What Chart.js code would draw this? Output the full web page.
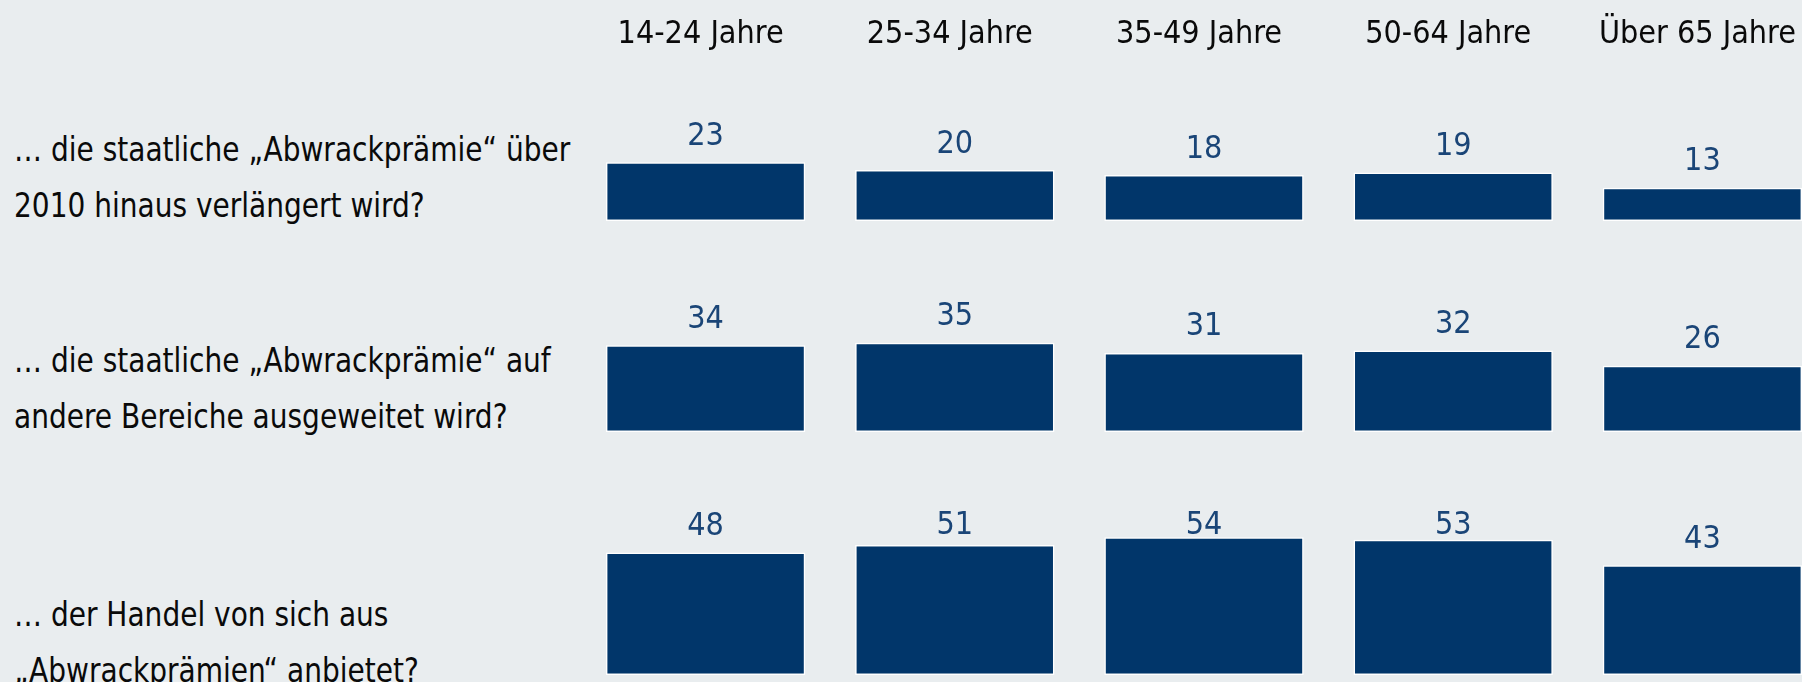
<!DOCTYPE html>
<html lang="de">
<head>
<meta charset="utf-8">
<title>Abwrackprämie nach Alter</title>
<script src="https://cdn.jsdelivr.net/npm/chart.js@4"></script>
<style>
  html, body { margin: 0; padding: 0; }
  body {
    width: 1802px; height: 682px; overflow: hidden; position: relative;
    background: #E9EDEF;
    font-family: "DejaVu Sans Condensed", "DejaVu Sans", sans-serif;
  }
  .rowlabel {
    position: absolute; left: 14px; font-size: 34px; line-height: 56.5px;
    color: #0A0A0A; white-space: nowrap;
    transform: scaleX(0.916); transform-origin: 0 0;
  }
  .chartbox { position: absolute; left: 581px; }
</style>
</head>
<body>
<div id="labels"></div>
<div class="chartbox" style="top:0px"><canvas id="c1" width="1246" height="221"></canvas></div>
<div class="chartbox" style="top:251px"><canvas id="c2" width="1246" height="181"></canvas></div>
<div class="chartbox" style="top:494px"><canvas id="c3" width="1246" height="181"></canvas></div>
<script>
// ---- data ----
const categories = ["14-24 Jahre", "25-34 Jahre", "35-49 Jahre", "50-64 Jahre", "Über 65 Jahre"];
const question1 = ["… die staatliche „Abwrackprämie“ über", "2010 hinaus verlängert wird?"];
const question2 = ["… die staatliche „Abwrackprämie“ auf", "andere Bereiche ausgeweitet wird?"];
const question3 = ["… der Handel von sich aus", "„Abwrackprämien“ anbietet?"];
const values1 = [23, 20, 18, 19, 13];
const values2 = [34, 35, 31, 32, 26];
const values3 = [48, 51, 54, 53, 43];

// ---- styles ----
const FONT = '"DejaVu Sans Condensed", "DejaVu Sans", sans-serif';
const BAR_COLOR = '#01366A';
const LABEL_COLOR = '#1A4577';
const Y_MAX = 55.3;

// row labels (HTML text)
const rowTops = [120.5, 331.5, 585.5];
[question1, question2, question3].forEach((lines, i) => {
  const d = document.createElement('div');
  d.className = 'rowlabel';
  d.style.top = rowTops[i] + 'px';
  d.innerHTML = lines.map(s => s.replace(/&/g, '&amp;').replace(/</g, '&lt;')).join('<br>');
  document.getElementById('labels').appendChild(d);
});

const valueLabels = {
  id: 'valueLabels',
  afterDatasetsDraw(chart, args, opts) {
    const ctx = chart.ctx;
    const meta = chart.getDatasetMeta(0);
    const data = chart.data.datasets[0].data;
    ctx.save();
    ctx.font = '32px ' + FONT;
    ctx.fillStyle = LABEL_COLOR;
    ctx.textAlign = 'center';
    ctx.textBaseline = 'alphabetic';
    meta.data.forEach((bar, i) => {
      const y = Math.max(bar.y - 17.5, chart.chartArea.top);
      ctx.fillText(String(data[i]), bar.x, y);
    });
    if (opts && opts.headers) {
      ctx.font = '32px ' + FONT;
      ctx.fillStyle = '#0A0A0A';
      const xs = chart.scales.x;
      chart.data.labels.forEach((lab, i) => {
        ctx.fillText(lab, xs.getPixelForValue(i) - 5, 43.3);
      });
    }
    ctx.restore();
  }
};

function makeChart(id, values, padTop, headers) {
  return new Chart(document.getElementById(id), {
    type: 'bar',
    data: {
      labels: categories,
      datasets: [{
        data: values,
        backgroundColor: BAR_COLOR,
        borderColor: '#FFFFFF',
        borderWidth: 1.5,
        borderSkipped: false,
        barPercentage: 0.8,
        categoryPercentage: 1.0
      }]
    },
    options: {
      responsive: false,
      animation: false,
      layout: { padding: { top: padTop, bottom: 0, left: 0, right: 0 } },
      plugins: {
        legend: { display: false },
        tooltip: { enabled: false },
        valueLabels: { headers: headers }
      },
      scales: {
        x: { display: false, offset: true, grid: { display: false } },
        y: { display: false, min: 0, max: Y_MAX }
      }
    },
    plugins: [valueLabels]
  });
}

makeChart('c1', values1, 80, true);
makeChart('c2', values2, 40, false);
makeChart('c3', values3, 40, false);
</script>
</body>
</html>
